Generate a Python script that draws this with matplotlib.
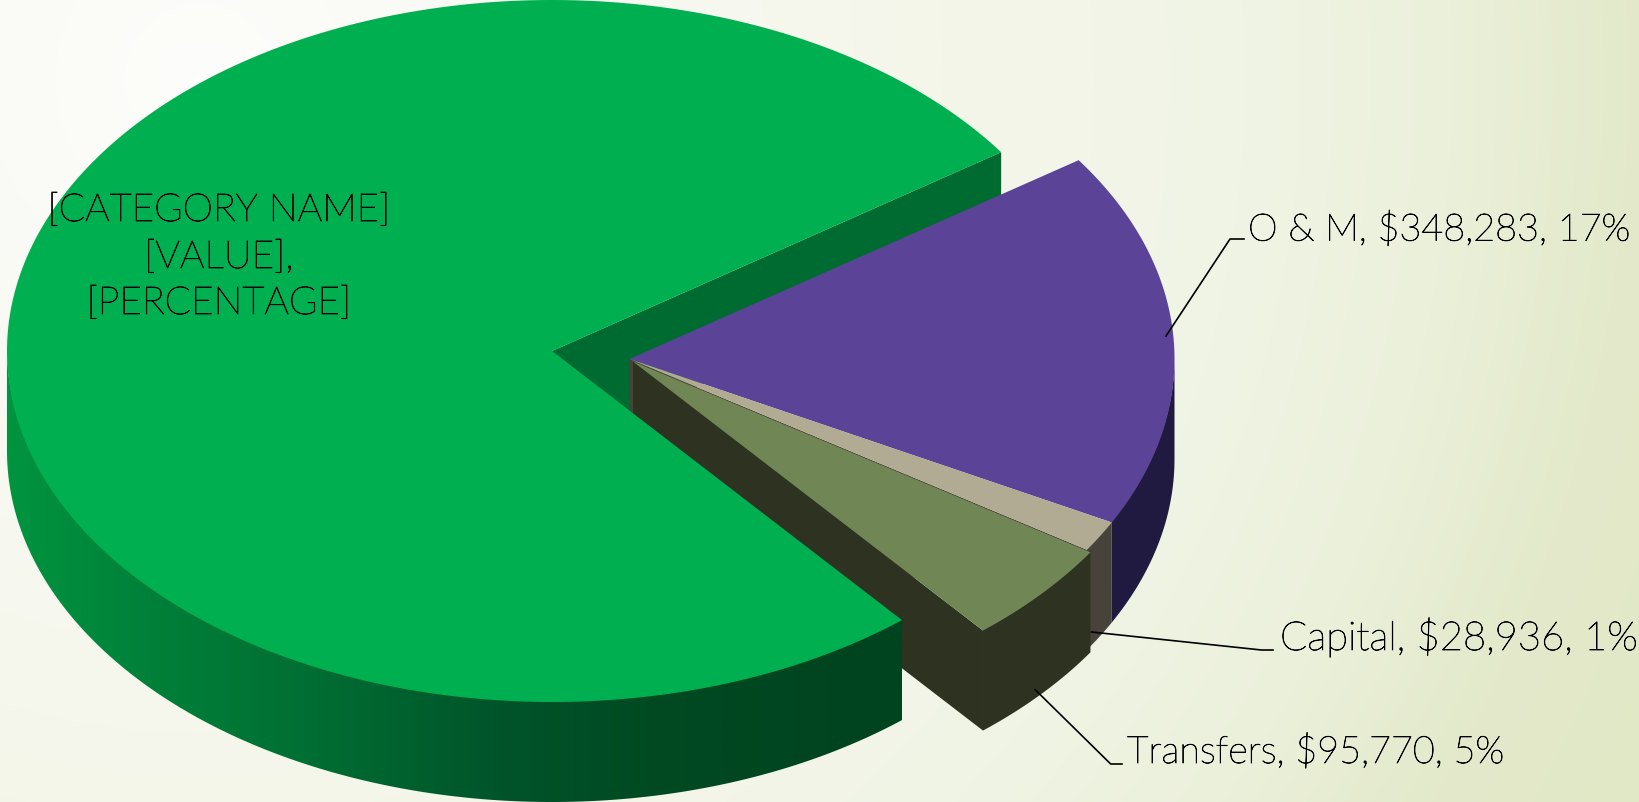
import numpy as np
import matplotlib
matplotlib.use('Agg')
import matplotlib.pyplot as plt
import matplotlib.patheffects as pe
from matplotlib.colors import LinearSegmentedColormap
from matplotlib.patches import Polygon

# clockwise from the top-right cut of the big slice
categories = ['O & M', 'Capital', 'Transfers', 'Personnel']
values = [348283, 28936, 95770, 1541000]  # big one is only a placeholder label in the chart, estimated from its angle

top_colors = ['#5b4397', '#b2ab94', '#718655', '#00b050']
wall_colors = ['#201a40', '#47433a', '#2d3320', '#006b30']
apex_x = [629.5, 629.5, 633, 552]
apex_y = [360, 360, 362.5, 352]

rx, ry = 545, 351
depth = 100
start_angle = 34.5

total = sum(values)
sweeps = [v / total * 360 for v in values]
ends = start_angle - np.cumsum(sweeps)
starts = ends + np.array(sweeps)


def rim(i, a0, a1, n=200):
    t = np.radians(np.linspace(a0, a1, n))
    return apex_x[i] + rx * np.cos(t), apex_y[i] - ry * np.sin(t)


def top_poly(i):
    x, y = rim(i, starts[i], ends[i], 400)
    return np.column_stack([np.r_[apex_x[i], x], np.r_[apex_y[i], y]])


def outer_wall(i, a0, a1, overlap=0):
    # overlap pulls the upper edge under the top face so no seam shows
    x, y = rim(i, a0, a1)
    return np.column_stack([np.r_[x, x[::-1]], np.r_[y - overlap, y[::-1] + depth]])


def cut_wall(i, angle):
    x, y = rim(i, angle, angle, 1)
    px = [apex_x[i], x[0], x[0], apex_x[i]]
    py = [apex_y[i], y[0], y[0] + depth, apex_y[i] + depth]
    return np.column_stack([px, py])


fig = plt.figure(figsize=(16.39, 8.03), dpi=100)
ax = fig.add_axes([0, 0, 1, 1])

# background
yy, xx = np.mgrid[0:803, 0:1639]
dist = np.hypot(xx - 200, yy - 80) / 1610
bg_cmap = LinearSegmentedColormap.from_list(
    'bg', [(0, '#fdfdfb'), (0.13, '#fafbf6'), (0.46, '#f4f6ea'), (0.65, '#f0f4e5'),
           (0.78, '#ebf0da'), (0.89, '#e3e9ca'), (1, '#e1e8c6')])
ax.imshow(dist, cmap=bg_cmap, vmin=0, vmax=1, extent=[0, 1639, 803, 0], aspect='auto', zorder=0)

# big slice's cut face sits behind the rest
ax.add_patch(Polygon(cut_wall(3, ends[3]), fc=wall_colors[3], ec='none', zorder=1))

# small slices, back to front
ax.add_patch(Polygon(outer_wall(0, 0, ends[0], 2), fc=wall_colors[0], ec='none', zorder=2))
ax.add_patch(Polygon(cut_wall(1, ends[1]), fc=wall_colors[1], ec='none', zorder=2))
ax.add_patch(Polygon(outer_wall(1, starts[1], ends[1], 2), fc=wall_colors[1], ec='none', zorder=2))
ax.add_patch(Polygon(cut_wall(2, ends[2]), fc=wall_colors[2], ec='none', zorder=3))
ax.add_patch(Polygon(outer_wall(2, starts[2], ends[2], 2), fc=wall_colors[2], ec='none', zorder=3))
for i in range(3):
    ax.add_patch(Polygon(top_poly(i), fc=top_colors[i], ec='none', zorder=4 + (i == 2)))

# front wall of the big slice with horizontal shading
green_cmap = LinearSegmentedColormap.from_list(
    'wall', [(0, '#00943f'), (0.16, '#008039'), (0.33, '#006f33'), (0.55, '#00542a'),
             (0.72, '#004a22'), (1, '#00431f')])
wall_img = ax.imshow(np.linspace(0, 1, 900)[None, :], cmap=green_cmap, extent=[7, 903, 803, 0],
                     aspect='auto', zorder=6)
wall_patch = Polygon(outer_wall(3, -180, starts[3], 3), fc='none', ec='none', zorder=6)
ax.add_patch(wall_patch)
wall_img.set_clip_path(wall_patch)
ax.add_patch(Polygon(top_poly(3), fc=top_colors[3], ec='none', zorder=7))

# labels
font = dict(family='Lato', weight='light', color='black', zorder=9,
            path_effects=[pe.withStroke(linewidth=0.55, foreground='black')])
ax.text(219, 222, '[CATEGORY NAME]', ha='center', va='baseline', fontsize=27.8, **font)
ax.text(219, 269, '[VALUE],', ha='center', va='baseline', fontsize=27.8, **font)
ax.text(219, 315, '[PERCENTAGE]', ha='center', va='baseline', fontsize=27.8, **font)

label_x = [1248, 1280, 1127]
label_y = [241.6, 651, 764]
label_size = [27.2, 28.8, 27.2]
leaders = [
    ([1166, 1230, 1244], [337, 240, 240]),
    ([1091.6, 1261.5, 1273], [633, 651, 651]),
    ([1035, 1110.7, 1122], [690.5, 765, 765]),
]
for i in range(3):
    pct = round(values[i] / total * 100)
    ax.text(label_x[i], label_y[i], f'{categories[i]}, ${values[i]:,}, {pct}%',
            ha='left', va='baseline', fontsize=label_size[i], **font)
    ax.plot(leaders[i][0], leaders[i][1], color='black', lw=1.2, zorder=8)

ax.set_xlim(0, 1639)
ax.set_ylim(803, 0)
ax.axis('off')
fig.savefig('out.png', dpi=100)
